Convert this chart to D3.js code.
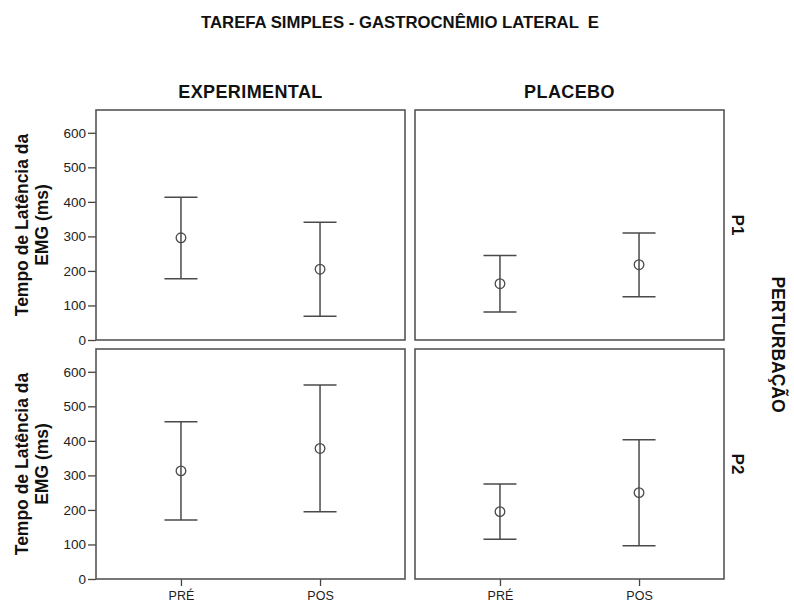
<!DOCTYPE html>
<html><head><meta charset="utf-8">
<script src="https://cdn.jsdelivr.net/npm/d3@7"></script>
<style>body{margin:0;background:#fff}svg{display:block}</style>
</head><body><svg id="c" width="794" height="606"></svg>
<script>
const title = "TAREFA SIMPLES - GASTROCNÊMIO LATERAL  E";
const columns = ["EXPERIMENTAL", "PLACEBO"];
const rows = ["P1", "P2"];
const categories = ["PRÉ", "POS"];
const yTicks = [0, 100, 200, 300, 400, 500, 600];
// means, lower and upper bounds, index [row][column][category]
const means = [[[296, 205], [163, 218]], [[313, 378], [195, 250]]];
const lower = [[[177, 69], [81, 125]], [[171, 195], [115, 96]]];
const upper = [[[413, 341], [245, 310]], [[455, 562], [275, 403]]];

const svg = d3.select("#c");
const font = "Arial, 'Liberation Sans', sans-serif";
const panelX = [96, 415], panelW = 309;
const panelY = [110, 349], panelH = 230;

const y = d3.scaleLinear().domain([0, 666]).range([panelH, 0]);
const x = d3.scalePoint().domain(categories).range([0, panelW]).padding(0.611);

svg.append("text").attr("x", 400).attr("y", 28).attr("text-anchor", "middle")
  .attr("font-family", font).style("white-space", "pre")
  .attr("textLength", 398).attr("lengthAdjust", "spacingAndGlyphs")
  .attr("font-weight", "bold").attr("font-size", 16.5).attr("fill", "#111").text(title);

columns.forEach((c, ci) => {
  svg.append("text").attr("x", panelX[ci] + panelW / 2).attr("y", 98).attr("text-anchor", "middle")
    .attr("font-family", font).attr("font-weight", "bold").attr("font-size", 18)
    .attr("letter-spacing", 0.4).attr("fill", "#111").text(c);
});

rows.forEach((r, ri) => {
  const cy = panelY[ri] + panelH / 2;
  svg.append("text").attr("transform", `translate(732,${cy}) rotate(90)`).attr("text-anchor", "middle")
    .attr("font-family", font).attr("font-weight", "bold").attr("font-size", 17).attr("fill", "#111").text(r);
  // y-axis title
  const g = svg.append("text").attr("transform", `translate(22,${cy}) rotate(-90)`).attr("text-anchor", "middle")
    .attr("font-family", font).attr("font-weight", "bold").attr("font-size", 17.5).attr("fill", "#111");
  g.append("tspan").attr("x", 0).attr("y", 6).text("Tempo de Latência da");
  g.append("tspan").attr("x", 0).attr("y", 26).text("EMG (ms)");
});

svg.append("text").attr("transform", `translate(772,${(panelY[0] + panelY[1] + panelH) / 2}) rotate(90)`)
  .attr("text-anchor", "middle").attr("font-family", font).attr("font-weight", "bold")
  .attr("font-size", 17.5).attr("fill", "#111").text("PERTURBAÇÃO");

rows.forEach((r, ri) => {
  columns.forEach((c, ci) => {
    const g = svg.append("g").attr("transform", `translate(${panelX[ci]},${panelY[ri]})`);
    if (ci === 0) {
      const ax = g.append("g").call(d3.axisLeft(y).tickValues(yTicks).tickSize(8).tickPadding(2));
      ax.select(".domain").remove();
      ax.selectAll(".tick line").attr("stroke", "#444").attr("stroke-width", 1.3);
      ax.selectAll("text").attr("font-family", font).attr("font-size", 13.5).attr("fill", "#222");
    }
    if (ri === 1) {
      const ax = g.append("g").attr("transform", `translate(0,${panelH})`)
        .call(d3.axisBottom(x).tickSize(7).tickPadding(5));
      ax.select(".domain").remove();
      ax.selectAll(".tick line").attr("stroke", "#444").attr("stroke-width", 1.3);
      ax.selectAll("text").attr("font-family", font).attr("font-size", 12.5).attr("fill", "#222");
    }
    g.append("rect").attr("width", panelW).attr("height", panelH)
      .attr("fill", "none").attr("stroke", "#555").attr("stroke-width", 1.6);
    const d = categories.map((k, i) => ({ k, m: means[ri][ci][i], lo: lower[ri][ci][i], hi: upper[ri][ci][i] }));
    const capW = 16.5;
    const eb = g.selectAll(".eb").data(d).join("g").attr("stroke", "#4a4a4a").attr("stroke-width", 1.5).attr("fill", "none");
    eb.append("line").attr("x1", v => x(v.k)).attr("x2", v => x(v.k)).attr("y1", v => y(v.lo)).attr("y2", v => y(v.hi));
    eb.append("line").attr("x1", v => x(v.k) - capW).attr("x2", v => x(v.k) + capW).attr("y1", v => y(v.lo)).attr("y2", v => y(v.lo));
    eb.append("line").attr("x1", v => x(v.k) - capW).attr("x2", v => x(v.k) + capW).attr("y1", v => y(v.hi)).attr("y2", v => y(v.hi));
    eb.append("circle").attr("cx", v => x(v.k)).attr("cy", v => y(v.m)).attr("r", 4.8)
      .attr("fill", "none").attr("stroke", "#4a4a4a").attr("stroke-width", 1.3);
  });
});
</script></body></html>
